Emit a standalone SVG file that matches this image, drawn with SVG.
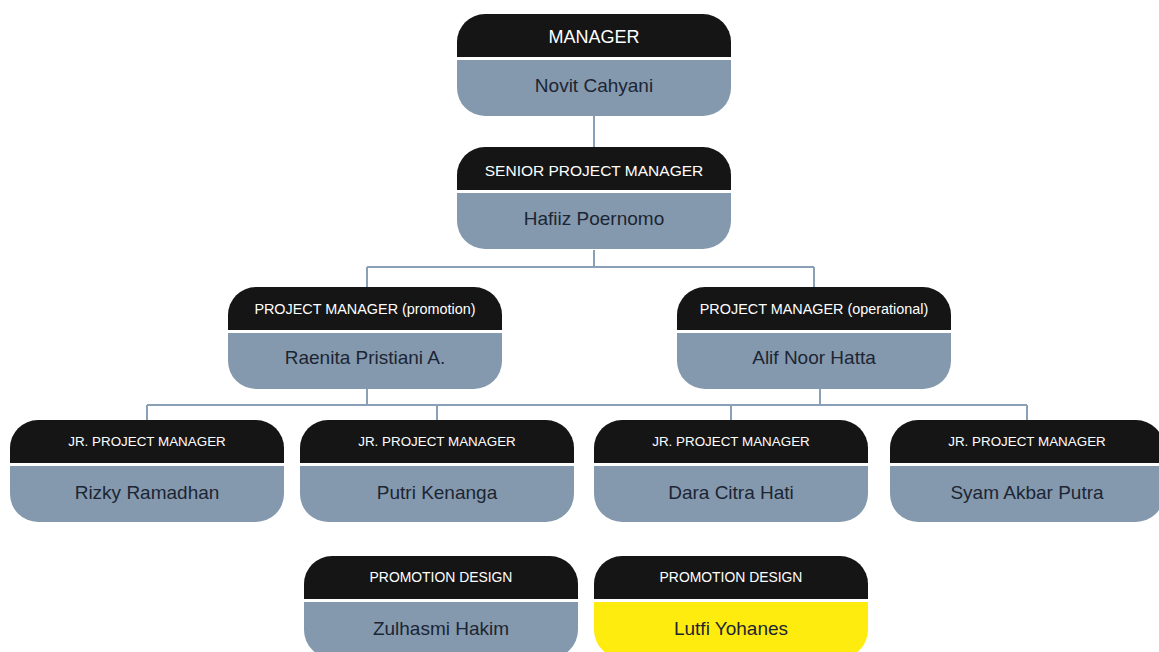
<svg xmlns="http://www.w3.org/2000/svg" width="1159" height="652" viewBox="0 0 1159 652">
<defs>
<style>
.head{fill:#151515}
.body{fill:#8499ae}
.yellow{fill:#ffec0f}
.ht{font-family:"Liberation Sans",Arial,sans-serif;fill:#ffffff;text-anchor:middle}
.nt{font-family:"Liberation Sans",Arial,sans-serif;fill:#1c2533;text-anchor:middle;font-size:19px}
.conn{fill:none;stroke:#8aa0b6;stroke-width:2}
</style>
<path id="hd" d="M0,43 V28 A28,28 0 0 1 28,0 H246 A28,28 0 0 1 274,28 V43 Z"/>
<path id="bd" d="M0,46 H274 V74 A28,28 0 0 1 246,102 H28 A28,28 0 0 1 0,74 Z"/>
</defs>
<rect width="1159" height="652" fill="#ffffff"/>
<g id="connectors" class="conn">
<path d="M594,116 V147"/>
<path d="M594,250 V267 M367,267 H814 M367,267 V287 M814,267 V287"/>
<path d="M367,389 V405 M820,389 V405 M147,405 H1027 M147,405 V420 M437,405 V420 M731,405 V420 M1027,405 V420"/>
</g>
<g id="manager" transform="translate(457,14)">
<use href="#hd" class="head"/><use href="#bd" class="body"/>
<text class="ht" x="137" y="29" font-size="18">MANAGER</text>
<text class="nt" x="137" y="78">Novit Cahyani</text>
</g>
<g id="senior" transform="translate(457,147)">
<use href="#hd" class="head"/><use href="#bd" class="body"/>
<text class="ht" x="137" y="29" font-size="15.5">SENIOR PROJECT MANAGER</text>
<text class="nt" x="137" y="78">Hafiiz Poernomo</text>
</g>
<g id="pm-promotion" transform="translate(228,287)">
<use href="#hd" class="head"/><use href="#bd" class="body"/>
<text class="ht" x="137" y="27" font-size="14.4">PROJECT MANAGER (promotion)</text>
<text class="nt" x="137" y="77">Raenita Pristiani A.</text>
</g>
<g id="pm-operational" transform="translate(677,287)">
<use href="#hd" class="head"/><use href="#bd" class="body"/>
<text class="ht" x="137" y="27" font-size="14.4">PROJECT MANAGER (operational)</text>
<text class="nt" x="137" y="77">Alif Noor Hatta</text>
</g>
<g id="jr1" transform="translate(10,420)">
<use href="#hd" class="head"/><use href="#bd" class="body"/>
<text class="ht" x="137" y="26" font-size="13.4">JR. PROJECT MANAGER</text>
<text class="nt" x="137" y="79">Rizky Ramadhan</text>
</g>
<g id="jr2" transform="translate(300,420)">
<use href="#hd" class="head"/><use href="#bd" class="body"/>
<text class="ht" x="137" y="26" font-size="13.4">JR. PROJECT MANAGER</text>
<text class="nt" x="137" y="79">Putri Kenanga</text>
</g>
<g id="jr3" transform="translate(594,420)">
<use href="#hd" class="head"/><use href="#bd" class="body"/>
<text class="ht" x="137" y="26" font-size="13.4">JR. PROJECT MANAGER</text>
<text class="nt" x="137" y="79">Dara Citra Hati</text>
</g>
<g id="jr4" transform="translate(890,420)">
<use href="#hd" class="head"/><use href="#bd" class="body"/>
<text class="ht" x="137" y="26" font-size="13.4">JR. PROJECT MANAGER</text>
<text class="nt" x="137" y="79">Syam Akbar Putra</text>
</g>
<g id="design1" transform="translate(304,556)">
<use href="#hd" class="head"/><use href="#bd" class="body"/>
<text class="ht" x="137" y="26" font-size="13.9">PROMOTION DESIGN</text>
<text class="nt" x="137" y="79">Zulhasmi Hakim</text>
</g>
<g id="design2" transform="translate(594,556)">
<use href="#hd" class="head"/><use href="#bd" class="yellow"/>
<text class="ht" x="137" y="26" font-size="13.9">PROMOTION DESIGN</text>
<text class="nt" x="137" y="79">Lutfi Yohanes</text>
</g>
</svg>
